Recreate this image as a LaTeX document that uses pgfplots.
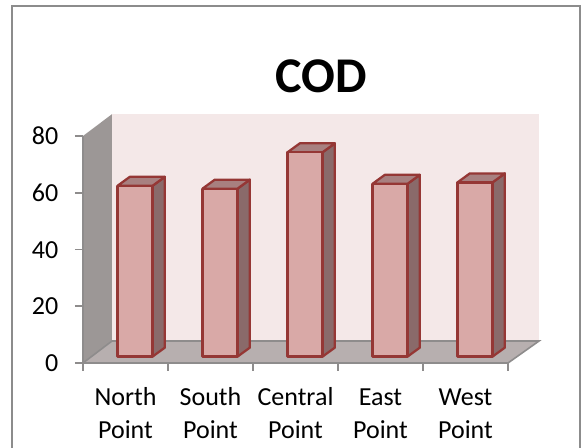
\documentclass[border=0pt]{standalone}
\usepackage{pgfplots}
\pgfplotsset{compat=1.18}
\usepackage{fontspec}
\setmainfont{Carlito}
\definecolor{framegray}{HTML}{8C8C8C}
\definecolor{axisgray}{HTML}{8E8C8C}
\definecolor{backwall}{HTML}{F4E8E8}
\definecolor{sidewall}{HTML}{9C9796}
\definecolor{floorcol}{HTML}{B7AFAF}
\definecolor{barfront}{HTML}{D9A9A7}
\definecolor{barside}{HTML}{8A6A6A}
\definecolor{bartop}{HTML}{A88080}
\definecolor{baredge}{HTML}{953735}
% One 3-D column: front, top and side faces. #1 = category position, #2 = value
\newcommand{\column}[2]{%
  \pgfmathsetmacro{\xa}{#1-0.094}%
  \pgfmathsetmacro{\xb}{#1+0.318}%
  \pgfmathsetmacro{\xc}{#1+0.463}%
  \pgfmathsetmacro{\xd}{#1+0.051}%
  \pgfmathsetmacro{\ya}{2.25}%
  \pgfmathsetmacro{\yb}{2.25+#2}%
  \pgfmathsetmacro{\yc}{5.42+#2}%
  \pgfmathsetmacro{\ye}{5.42}%
  \addplot[fill=barside,draw=baredge,line width=1.7pt,line join=round] coordinates {(\xb,\ya) (\xc,\ye) (\xc,\yc) (\xb,\yb)} -- cycle;
  \addplot[fill=bartop,draw=baredge,line width=1.7pt,line join=round] coordinates {(\xa,\yb) (\xd,\yc) (\xc,\yc) (\xb,\yb)} -- cycle;
  \addplot[fill=barfront,draw=baredge,line width=1.7pt,line join=round] coordinates {(\xa,\ya) (\xb,\ya) (\xb,\yb) (\xa,\yb)} -- cycle;
}
\begin{document}
\begin{tikzpicture}
\useasboundingbox (0,0) rectangle (436.5pt,336pt);
\draw[framegray,line width=1.5pt] (9pt,-2pt) -- (9pt,331.5pt) -- (435pt,331.5pt) -- (435pt,-2pt);
\begin{axis}[
  at={(62.25pt,63.75pt)}, anchor=south west,
  scale only axis, width=318.75pt, height=170.25pt,
  xmin=-0.5, xmax=4.5, ymin=0, ymax=80,
  clip=false, axis on top,
  axis x line*=bottom, axis y line*=left,
  axis line style={axisgray,line width=1.7pt,-},
  xtick={0,1,2,3,4},
  xticklabels={{North\\Point},{South\\Point},{Central\\Point},{East\\Point},{West\\Point}},
  minor xtick={-0.5,0.5,1.5,2.5,3.5,4.5},
  major x tick style={draw=none},
  minor x tick style={axisgray,line width=1.2pt},
  minor tick length=6pt,
  ytick={0,20,40,60,80},
  y tick style={axisgray,line width=1.2pt},
  ytick pos=left,
  major tick length=6pt,
  tick align=outside,
  typeset ticklabels with strut,
  xticklabel style={align=center,font=\fontsize{19.5}{24.75}\selectfont,yshift=-5pt},
  yticklabel style={font=\fontsize{19.5}{22}\selectfont,xshift=-9pt,yshift=-2pt},
  /pgf/number format/assume math mode=true,
  title={COD},
  title style={font=\fontsize{37.5}{40}\selectfont\bfseries,at={(0.56,1.228)},anchor=center},
]
% back wall, side wall and floor
\addplot[fill=backwall,draw=none] coordinates {(-0.159,7.75) (4.865,7.75) (4.865,87.7) (-0.159,87.7)} -- cycle;
\addplot[fill=sidewall,draw=none] coordinates {(-0.5,0) (-0.159,7.75) (-0.159,87.7) (-0.5,80)} -- cycle;
\addplot[fill=floorcol,draw=none] coordinates {(-0.5,0) (4.5,0) (4.865,7.75) (-0.159,7.75)} -- cycle;
\addplot[draw=axisgray,line width=1.2pt] coordinates {(-0.5,0) (-0.159,7.75) (4.865,7.75) (4.5,0)};
\column{0}{60.2}
\column{1}{59.2}
\column{2}{72.0}
\column{3}{60.9}
\column{4}{61.4}
\end{axis}
\end{tikzpicture}
\end{document}
